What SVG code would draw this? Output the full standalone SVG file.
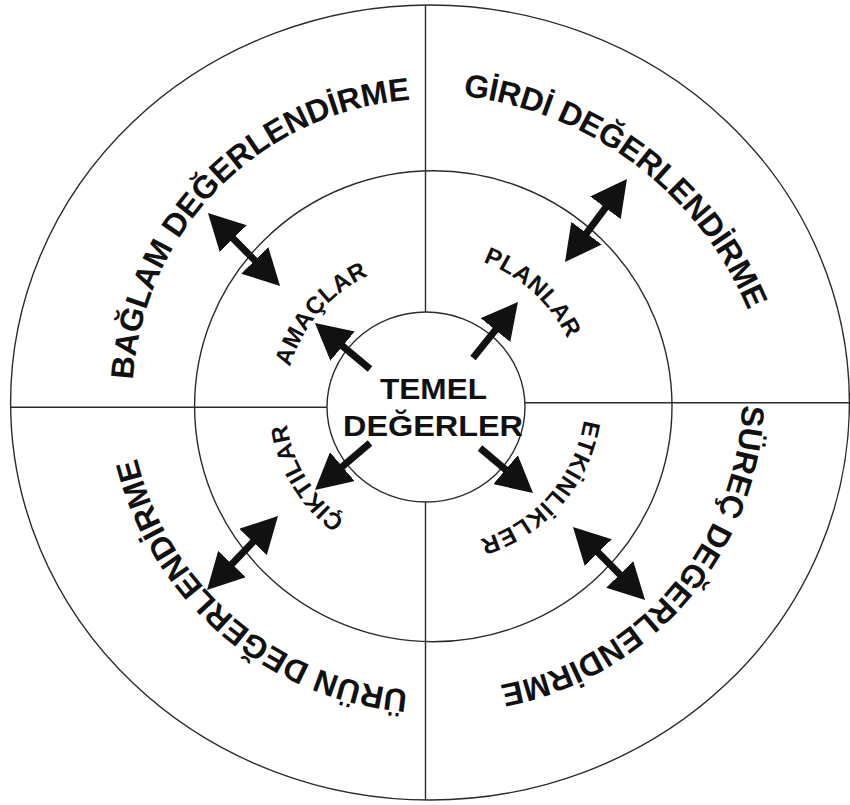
<svg xmlns="http://www.w3.org/2000/svg" width="850" height="805" viewBox="0 0 850 805">
  <style>
    .ring { fill: none; stroke: #2b2b2b; stroke-width: 1.4; }
    .lbl { font-family: "Liberation Sans", Arial, sans-serif; font-weight: bold; fill: #111; }
    .outer { font-size: 32px; }
    .inner { font-size: 24px; }
    .core { font-size: 29px; }
    .arrow { stroke: #111; stroke-width: 7; fill: none; }
  </style>
  <defs>
    <marker id="head" markerUnits="userSpaceOnUse" viewBox="0 0 36 38" markerWidth="36" markerHeight="38" refX="22" refY="19" orient="auto-start-reverse">
      <path d="M0,0 L36,19 L0,38 Z" fill="#111"/>
    </marker>
    <!-- baselines for the curved labels, all running clockwise -->
    <path id="p-baglam" d="M133,380 A300,300 0 0 1 410,100"/>
    <path id="p-girdi" d="M463,96 A353,353 0 0 1 748,310"/>
    <path id="p-surec" d="M742,405 A296,296 0 0 1 500,685"/>
    <path id="p-urun" d="M408,690 A305,305 0 0 1 137,458"/>
    <path id="p-amaclar" d="M290,367 A145,145 0 0 1 370,275"/>
    <path id="p-planlar" d="M483,262 A153,153 0 0 1 568,340"/>
    <path id="p-etkinlik" d="M584,420 A150,150 0 0 1 478,540"/>
    <path id="p-ciktilar" d="M345,520 A145,145 0 0 1 287,425"/>
  </defs>

  <rect width="850" height="805" fill="#fff"/>

  <!-- rings and quadrant dividers -->
  <g id="rings">
    <ellipse class="ring" cx="430" cy="402.5" rx="419.4" ry="397.5"/>
    <ellipse class="ring" cx="433.3" cy="406.2" rx="238.7" ry="235.5"/>
    <ellipse class="ring" cx="426" cy="407" rx="99" ry="95"/>
    <line class="ring" x1="425.5" y1="5" x2="425.5" y2="312"/>
    <line class="ring" x1="425.5" y1="502" x2="425.5" y2="800"/>
    <line class="ring" x1="10.7" y1="407.3" x2="327" y2="407.3"/>
    <line class="ring" x1="525" y1="402.7" x2="850" y2="402.7"/>
  </g>

  <g id="temel-degerler">
    <text class="lbl core" x="433.5" y="399" text-anchor="middle" textLength="107" lengthAdjust="spacingAndGlyphs">TEMEL</text>
    <text class="lbl core" x="433" y="436" text-anchor="middle" textLength="180" lengthAdjust="spacingAndGlyphs">DEĞERLER</text>
  </g>

  <g id="amaclar">
    <text class="lbl inner"><textPath href="#p-amaclar" textLength="124">AMAÇLAR</textPath></text>
  </g>
  <g id="planlar">
    <text class="lbl inner"><textPath href="#p-planlar" textLength="117">PLANLAR</textPath></text>
  </g>
  <g id="etkinlikler">
    <text class="lbl inner"><textPath href="#p-etkinlik" textLength="167">ETKİNLİKLER</textPath></text>
  </g>
  <g id="ciktilar">
    <text class="lbl inner"><textPath href="#p-ciktilar" textLength="115">ÇIKTILAR</textPath></text>
  </g>

  <g id="baglam-degerlendirme">
    <text class="lbl outer"><textPath href="#p-baglam" textLength="430">BAĞLAM DEĞERLENDİRME</textPath></text>
  </g>
  <g id="girdi-degerlendirme">
    <text class="lbl outer"><textPath href="#p-girdi" textLength="374">GİRDİ DEĞERLENDİRME</textPath></text>
  </g>
  <g id="surec-degerlendirme">
    <text class="lbl outer"><textPath href="#p-surec" textLength="400">SÜREÇ DEĞERLENDİRME</textPath></text>
  </g>
  <g id="urun-degerlendirme">
    <text class="lbl outer"><textPath href="#p-urun" textLength="381">ÜRÜN DEĞERLENDİRME</textPath></text>
  </g>

  <!-- arrows: outward from the core, two-way across the middle ring -->
  <g id="connectors">
    <line class="arrow" x1="370" y1="369" x2="325.7" y2="332" marker-end="url(#head)"/>
    <line class="arrow" x1="473" y1="358" x2="509.2" y2="312.9" marker-end="url(#head)"/>
    <line class="arrow" x1="370" y1="443" x2="325.6" y2="480.9" marker-end="url(#head)"/>
    <line class="arrow" x1="480" y1="448" x2="522.3" y2="483.9" marker-end="url(#head)"/>

    <line class="arrow" x1="217.8" y1="223" x2="270.2" y2="276" marker-start="url(#head)" marker-end="url(#head)"/>
    <line class="arrow" x1="618.6" y1="190.2" x2="573.4" y2="250.8" marker-start="url(#head)" marker-end="url(#head)"/>
    <line class="arrow" x1="268.3" y1="526.1" x2="216.7" y2="579.9" marker-start="url(#head)" marker-end="url(#head)"/>
    <line class="arrow" x1="582.8" y1="537" x2="635.2" y2="590" marker-start="url(#head)" marker-end="url(#head)"/>
  </g>
</svg>
